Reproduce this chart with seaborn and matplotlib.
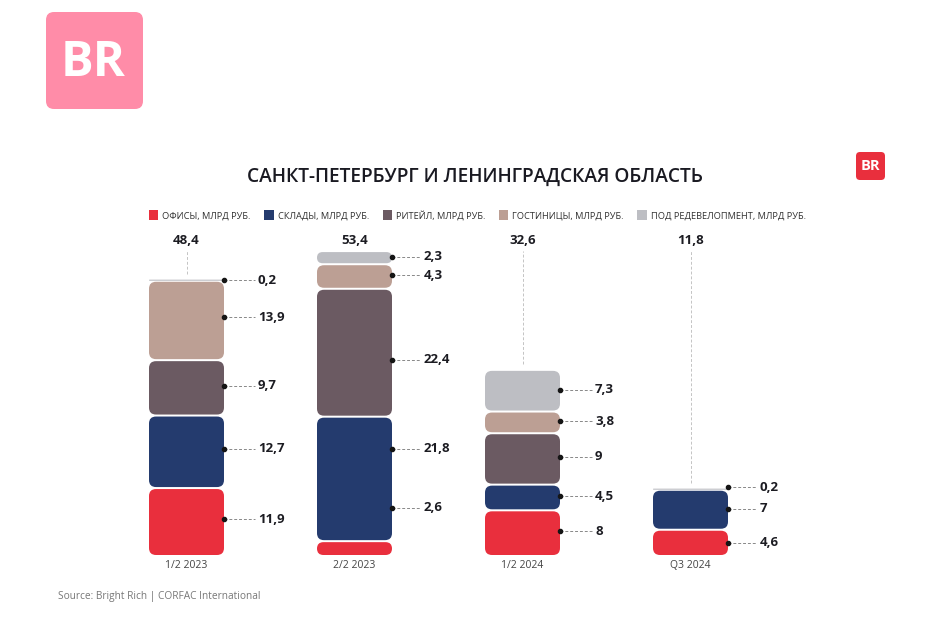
import matplotlib
matplotlib.use("Agg")
import matplotlib.pyplot as plt
from matplotlib.patches import FancyBboxPatch, Patch
import numpy as np
import seaborn as sns

sns.set_theme(style="white")
plt.rcParams['font.family'] = ['Open Sans', 'DejaVu Sans']

title = "САНКТ-ПЕТЕРБУРГ И ЛЕНИНГРАДСКАЯ ОБЛАСТЬ"
source = "Source: Bright Rich | CORFAC International"
periods = ["1/2 2023", "2/2 2023", "1/2 2024", "Q3 2024"]
series_names = ["ОФИСЫ, МЛРД РУБ.", "СКЛАДЫ, МЛРД РУБ.", "РИТЕЙЛ, МЛРД РУБ.",
                "ГОСТИНИЦЫ, МЛРД РУБ.", "ПОД РЕДЕВЕЛОПМЕНТ, МЛРД РУБ."]
offices = [11.9, 2.6, 8, 4.6]
warehouses = [12.7, 21.8, 4.5, 7]
retail = [9.7, 22.4, 9, 0]
hotels = [13.9, 4.3, 3.8, 0]
redevelopment = [0.2, 2.3, 7.3, 0.2]
totals = [48.4, 53.4, 32.6, 11.8]
colors = ["#E92F3D", "#243B6E", "#6B5A62", "#BC9F94", "#BDBEC3"]

series = [offices, warehouses, retail, hotels, redevelopment]

# layout (pixels of the 952x629 canvas)
W, H = 952, 629
PX_PER_UNIT = 5.71
PX_PER_CAT = 168
base_y, top_y = 556, 232
left_x = 186.5 - PX_PER_CAT / 2
nudge_px = [[-3, -3, -2, -3, 0],
            [-41, -30, 7, -1, -1],
            [-2, -1, -2, -1, -1],
            [0, -1, 0, 0, -2]]
leader_px = [34, 32, 35, 32]

fig = plt.figure(figsize=(W / 100, H / 100), dpi=100, facecolor="white")
ax = fig.add_axes([left_x / W, 1 - base_y / H, 4 * PX_PER_CAT / W, (base_y - top_y) / H])

bottom = np.zeros(4)
for name, vals, col in zip(series_names, series, colors):
    sns.barplot(x=periods, y=vals, bottom=bottom, color=col, width=75 / PX_PER_CAT,
                saturation=1, ax=ax, label=name, legend=False)
    bottom = bottom + np.array(vals)

ax.set_xlim(-0.5, 3.5)
ax.set_ylim(0, (base_y - top_y) / PX_PER_UNIT)
aspect = PX_PER_CAT / PX_PER_UNIT
gap = 1.0 / PX_PER_UNIT
for p in list(ax.patches):
    x, y, w, h = p.get_x(), p.get_y(), p.get_width(), p.get_height()
    col = p.get_facecolor()
    p.remove()
    if h <= 0:
        continue
    hh = max(h - 2 * gap, 1.1 / PX_PER_UNIT)
    yy = y + (h - hh) / 2
    r_px = min(7, hh * PX_PER_UNIT / 2)
    ax.add_patch(FancyBboxPatch((x, yy), w, hh,
                                boxstyle=f"round,pad=0,rounding_size={r_px / PX_PER_CAT}",
                                mutation_aspect=aspect, facecolor=col, edgecolor="none", lw=0))

# leaders and value labels
bar_half = 37.5 / PX_PER_CAT
for i in range(4):
    cum = 0
    lead = leader_px[i] / PX_PER_CAT
    for j, s in enumerate(series):
        v = s[i]
        if v > 0:
            y = cum + v / 2 - nudge_px[i][j] / PX_PER_UNIT
            x0 = i + bar_half
            ax.plot([x0, x0 + lead - 3 / PX_PER_CAT], [y, y], ls=(0, (3, 2)), lw=0.7, color="#888888",
                    zorder=3, clip_on=False)
            ax.plot([x0], [y], marker="o", ms=3.0, color="#151515", zorder=4, clip_on=False)
            ax.text(x0 + lead, y, f"{v:g}".replace(".", ","), fontsize=9.5, fontweight="bold",
                    color="#1c1c22", va="center", ha="left", clip_on=False)
        cum += v
    y_top = (base_y - 251) / PX_PER_UNIT
    if totals[i] + 1 < y_top:
        ax.plot([i, i], [totals[i] + 1, y_top], ls=(0, (3, 2)), lw=0.7, color="#c4c4c4", zorder=1, clip_on=False)
    ax.text(i, (base_y - 241) / PX_PER_UNIT, f"{totals[i]:g}".replace(".", ","), fontsize=9.5, fontweight="bold",
            color="#1c1c22", ha="center", va="center", clip_on=False)

sns.despine(ax=ax, left=True, bottom=True)
ax.set_yticks([])
ax.tick_params(axis="x", length=0, labelsize=7.5, labelcolor="#444444", pad=3)
ax.set_xlabel("")
ax.set_ylabel("")
ax.patch.set_alpha(0)

handles = [Patch(facecolor=c, edgecolor="none", label=n) for n, c in zip(series_names, colors)]
fig.legend(handles=handles, ncol=5, loc="center left", bbox_to_anchor=(149 / W, 1 - 215 / H), frameon=False,
           fontsize=6.7, handlelength=1.0, handleheight=1.3, handletextpad=0.45, columnspacing=1.45,
           labelcolor="#333333", borderpad=0, borderaxespad=0)

fig.text(475 / W, 1 - 176.5 / H, title, fontsize=13.8, fontweight="semibold", color="#1a1a22", ha="center", va="center")
fig.text(58 / W, 1 - 597 / H, source, fontsize=7.3, color="#777777", ha="left", va="center")

# logos
logo_ax = fig.add_axes([0, 0, 1, 1], zorder=-1)
logo_ax.set_xlim(0, W)
logo_ax.set_ylim(H, 0)
logo_ax.axis("off")
logo_ax.add_patch(FancyBboxPatch((46, 12), 97, 97, boxstyle="round,pad=0,rounding_size=8",
                                 facecolor="#FF8CA8", edgecolor="none"))
logo_ax.text(93.5, 64, "BR", fontsize=35, fontweight="bold", color="white", ha="center", va="center")
logo_ax.add_patch(FancyBboxPatch((856, 152), 29, 28, boxstyle="round,pad=0,rounding_size=4",
                                 facecolor="#E92F3D", edgecolor="none"))
logo_ax.text(870.5, 166.5, "BR", fontsize=10.5, fontweight="bold", color="white", ha="center", va="center")

fig.savefig("out.png", dpi=100)
